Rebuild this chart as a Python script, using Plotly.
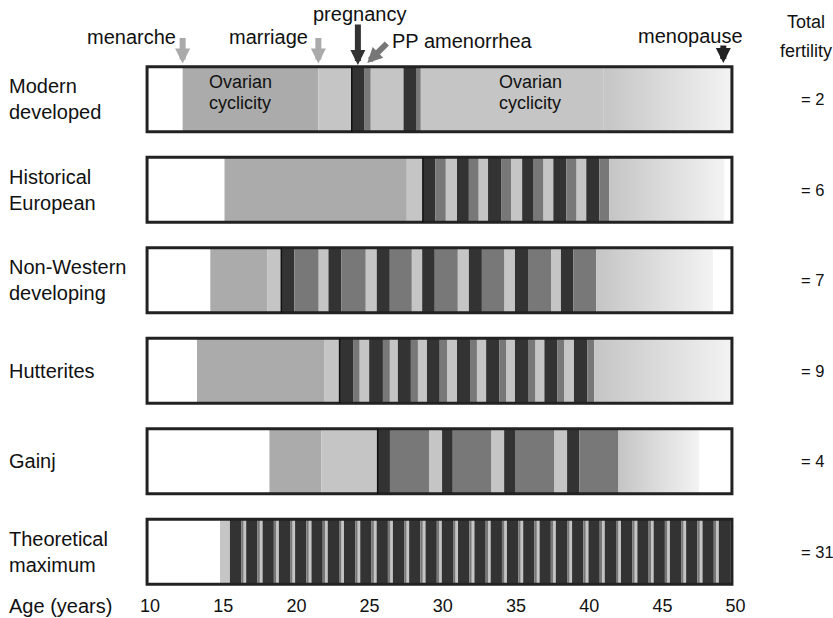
import plotly.graph_objects as go

# Reproductive life courses: segment boundaries (age, years) and segment kinds
# w = not fecund / post-reproductive, a = ovarian cycling (unmarried),
# c = ovarian cycling (married), p = pregnancy, m = PP amenorrhea, g = declining fecundity
rows = ["Modern<br>developed", "Historical<br>European", "Non-Western<br>developing",
        "Hutterites", "Gainj", "Theoretical<br>maximum"]
total_fertility = [2, 6, 7, 9, 4, 31]

modern_edges = [9.8, 12.23, 21.5, 23.78, 24.62, 25.07, 27.32, 28.17, 28.49, 40.96, 49.75]
modern_kinds = "wacpmcpmcg"

historical_edges = [9.8, 15.09, 27.54, 28.64, 29.5, 30.2, 30.97, 31.78, 32.44, 33.09,
                    33.98, 34.66, 35.42, 36.16, 36.86, 37.55, 38.44, 39.12, 39.8,
                    40.69, 41.37, 49.23, 49.75]
historical_kinds = "wac" + "pmc" * 5 + "pmgw"

nonwestern_edges = [9.8, 14.12, 18.0, 18.97, 19.86, 21.51, 22.19, 23.08, 24.73, 25.49,
                    26.38, 27.88, 28.59, 29.45, 31.02, 31.78, 32.67, 34.19, 34.93,
                    35.82, 37.39, 38.07, 38.91, 40.48, 48.45, 49.75]
nonwestern_kinds = "wac" + "pmc" * 6 + "pmgw"

hutterite_edges = [9.8, 13.21, 21.93, 22.95, 23.87, 24.31, 24.97, 25.91, 26.38, 26.93,
                   27.82, 28.3, 28.92, 29.79, 30.29, 30.97, 31.86, 32.33, 32.96,
                   33.85, 34.32, 34.93, 35.82, 36.31, 36.94, 37.81, 38.28, 38.96,
                   39.88, 40.35, 49.75]
hutterite_kinds = "wac" + "pmc" * 8 + "pmg"

gainj_edges = [9.8, 18.16, 21.7, 25.55, 26.39, 29.06, 29.95, 30.68, 33.3, 34.19,
               34.93, 37.6, 38.49, 39.33, 42.0, 47.5, 49.75]
gainj_kinds = "wac" + "pmc" * 3 + "pmgw"

# theoretical maximum: conception ages, gestation and PP amenorrhea lengths
theo_menarche = 14.78
theo_conceptions = [15.46, 16.57, 17.69, 18.80, 19.91, 21.03, 22.14, 23.25, 24.36, 25.48,
                    26.59, 27.70, 28.82, 29.93, 31.04, 32.16, 33.27, 34.38, 35.49, 36.61,
                    37.72, 38.83, 39.95, 41.06, 42.17, 43.29, 44.40, 45.51, 46.62, 47.74,
                    48.85]
theo_gestation = 0.77
theo_pp = 0.16
age_start, age_end = 9.8, 49.75

# key event marked for the modern woman
menopause_age = 49.16

theo_edges = [age_start, theo_menarche]
theo_kinds = "wc"
for c in theo_conceptions:
    theo_edges += [c, min(c + theo_gestation, age_end), min(c + theo_gestation + theo_pp, age_end)]
    theo_kinds += "pmc"
theo_edges.append(age_end)
theo_edges = theo_edges[:len(theo_kinds) + 1]

all_edges = [modern_edges, historical_edges, nonwestern_edges, hutterite_edges,
             gainj_edges, theo_edges]
all_kinds = [modern_kinds, historical_kinds, nonwestern_kinds, hutterite_kinds,
             gainj_kinds, theo_kinds]

colors = {"a": "#ababab", "c": "#c5c5c5", "p": "#333333", "m": "#787878"}
half = 0.359
font = "Liberation Sans, Arial, sans-serif"
fs = 20

fig = go.Figure()

segs = {k: dict(base=[], length=[], row=[]) for k in colors}
gradients = []
for r, (edges, kinds) in enumerate(zip(all_edges, all_kinds)):
    for a, b, k in zip(edges[:-1], edges[1:], kinds):
        if k in colors and b > a:
            segs[k]["base"].append(a)
            segs[k]["length"].append(b - a)
            segs[k]["row"].append(r)
        elif k == "g":
            gradients.append((r, a, b))

for k, s in segs.items():
    fig.add_trace(go.Bar(
        orientation="h", y=s["row"], x=s["length"], base=s["base"],
        width=2 * half, marker=dict(color=colors[k], line_width=0),
        hoverinfo="skip"))

for r, a, b in gradients:
    fig.add_trace(go.Scatter(
        x=[a, b, b, a, a], y=[r - half, r - half, r + half, r + half, r - half],
        mode="lines", line=dict(width=0), fill="toself",
        fillgradient=dict(type="horizontal",
                          colorscale=[[0, "#c5c5c5"], [1, "#f3f3f3"]]),
        hoverinfo="skip"))

# frames and marriage lines
for r, (edges, kinds) in enumerate(zip(all_edges, all_kinds)):
    fig.add_shape(type="rect", x0=age_start, x1=age_end, y0=r - half, y1=r + half,
                  line=dict(color="#222222", width=3))
    i = kinds.find("ac")
    if i >= 0:
        fig.add_shape(type="line", x0=edges[i + 2], x1=edges[i + 2],
                      y0=r - half, y1=r + half, line=dict(color="#111111", width=1.5))

# row labels and total fertility
for r, (name, tf) in enumerate(zip(rows, total_fertility)):
    fig.add_annotation(x=-0.2198, xref="paper", y=r, text=name, showarrow=False,
                       xanchor="left", align="left", font=dict(size=fs))
    fig.add_annotation(x=1.0893, xref="paper", y=r, text=f"= {tf}", showarrow=False,
                       xanchor="left", font=dict(size=16.5))

fig.add_annotation(x=1.1008, xref="paper", y=-0.853, text="Total", showarrow=False,
                   xanchor="center", font=dict(size=18))
fig.add_annotation(x=1.1008, xref="paper", y=-0.53, text="fertility", showarrow=False,
                   xanchor="center", font=dict(size=18))
fig.add_annotation(x=-0.2198, xref="paper", y=-0.0223, yref="paper", text="Age (years)",
                   showarrow=False, xanchor="left", yanchor="middle", font=dict(size=fs))

# Ovarian cyclicity labels on the modern bar
for xc in [16.15, 35.96]:
    fig.add_annotation(x=xc, y=-0.19, text="Ovarian", showarrow=False, font=dict(size=18))
    fig.add_annotation(x=xc, y=0.04, text="cyclicity", showarrow=False, font=dict(size=18))

# event arrows
menarche = modern_edges[1]
marriage = modern_edges[2]
pregnancy = (modern_edges[3] + modern_edges[4]) / 2
pp = (modern_edges[4] + modern_edges[5]) / 2
arrow = dict(text="", showarrow=True, arrowhead=2, arrowwidth=6, arrowsize=0.5, ax=0)
fig.add_annotation(x=menarche, y=-0.395, ay=-27, arrowcolor="#aaaaaa", **arrow)
fig.add_annotation(x=marriage, y=-0.395, ay=-27, arrowcolor="#aaaaaa", **arrow)
fig.add_annotation(x=pregnancy, y=-0.378, ay=-42, arrowcolor="#333333", **arrow)
fig.add_annotation(x=pp, y=-0.40, ay=-21, arrowcolor="#777777",
                   **{**arrow, "ax": 21})
fig.add_annotation(x=menopause_age, y=-0.40, ay=-19, arrowcolor="#222222", **arrow)

fig.add_annotation(x=menarche, y=-0.685, text="menarche", showarrow=False,
                   xanchor="right", xshift=-5, font=dict(size=fs))
fig.add_annotation(x=marriage, y=-0.685, text="marriage", showarrow=False,
                   xanchor="right", xshift=-8, font=dict(size=fs))
fig.add_annotation(x=pregnancy, y=-0.94, text="pregnancy", showarrow=False,
                   xshift=2, font=dict(size=fs))
fig.add_annotation(x=26.42, y=-0.643, text="PP amenorrhea", showarrow=False,
                   xanchor="left", font=dict(size=fs))
fig.add_annotation(x=46.89, y=-0.698, text="menopause", showarrow=False,
                   font=dict(size=fs))

fig.update_layout(
    template="none",
    width=833, height=618,
    margin=dict(l=140, r=88, t=10, b=25, pad=0),
    barmode="overlay", showlegend=False,
    plot_bgcolor="white", paper_bgcolor="white",
    font=dict(family=font, size=fs, color="#111111"),
    xaxis=dict(range=[9.317, 50.642], tickvals=[10, 15, 20, 25, 30, 35, 40, 45, 50],
               ticks="", showgrid=False, zeroline=False, showline=False,
               automargin=False, tickfont=dict(size=18)),
    yaxis=dict(range=[5.4564, -0.9856], visible=False, automargin=False),
)

fig.write_html("out.html", config={"displayModeBar": False},
               post_script="document.body.style.margin='0';")
